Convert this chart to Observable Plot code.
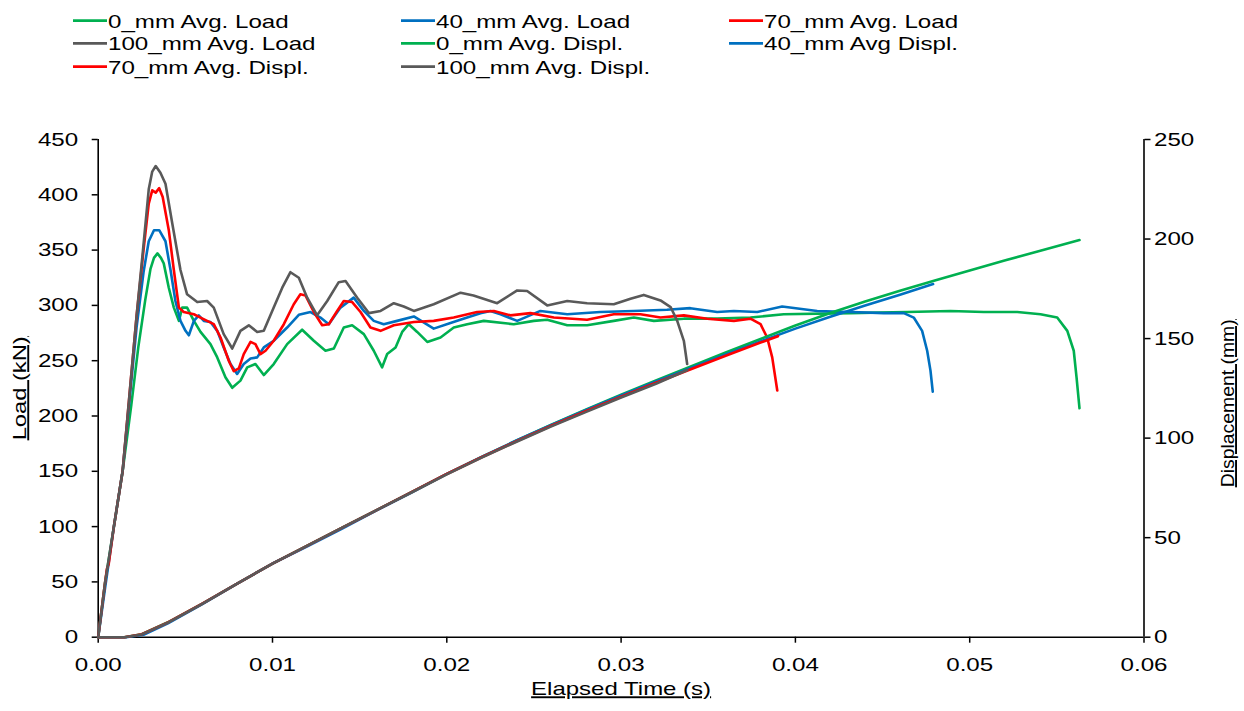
<!DOCTYPE html>
<html>
<head>
<meta charset="utf-8">
<script src="https://cdn.jsdelivr.net/npm/d3@7"></script>
<script src="https://cdn.jsdelivr.net/npm/@observablehq/plot@0.6"></script>
<style>
  html, body { margin: 0; padding: 0; background: #fff; }
  #chart { width: 1244px; height: 711px; overflow: hidden; font-family: "Liberation Sans", Arial, sans-serif; }
  svg { display: block; }
</style>
</head>
<body>
<div id="chart"></div>
<script>
// ---------- DATA ----------
// Load series: [elapsed time (s), load (kN)]
const load0mm = [[0,0],[0.0004,50],[0.0009,100],[0.0014,150],[0.0019,210],[0.0023,262],[0.0027,305],[0.0030,333],[0.0032,343],[0.0034,347],[0.0036,343],[0.00376,338],[0.00405,316],[0.00434,298],[0.00463,286],[0.00482,298],[0.0051,298],[0.00549,286],[0.00587,276],[0.00644,265],[0.00683,253],[0.0073,235],[0.00769,225.5],[0.00816,232],[0.00855,244],[0.00902,247],[0.0095,237],[0.01007,247],[0.01084,265],[0.0117,278],[0.01237,268],[0.01304,259],[0.01352,261],[0.01409,280],[0.01457,282],[0.01524,274],[0.01581,259],[0.01629,244],[0.01658,256],[0.01706,262],[0.01744,276],[0.01782,283],[0.0183,276],[0.01888,267],[0.01964,271],[0.0204,280],[0.02117,283],[0.02212,286],[0.02384,283],[0.02499,286],[0.02576,287],[0.02691,282],[0.02805,282],[0.02958,286],[0.03073,289],[0.03188,286],[0.0336,288],[0.03551,288],[0.03742,289],[0.03933,292],[0.04316,293],[0.04641,294],[0.0489,295],[0.05081,294],[0.05273,294],[0.05406,292],[0.05502,289],[0.0556,277],[0.05597,259],[0.05613,235],[0.0563,207]];
const load40mm = [[0,0],[0.0004,45],[0.0009,100],[0.0014,150],[0.0018,215],[0.0022,280],[0.0026,330],[0.0029,358],[0.0032,368],[0.0035,368],[0.00386,358],[0.00415,332],[0.00443,304],[0.00472,286],[0.00501,277],[0.0052,273],[0.00549,286],[0.00577,291],[0.00606,286],[0.00644,285],[0.00683,277],[0.0072,262],[0.00759,247],[0.00797,238],[0.00835,247],[0.00874,252],[0.00912,253],[0.0095,262],[0.01007,268],[0.01084,280],[0.01151,291.5],[0.01218,294],[0.01275,289],[0.01323,283],[0.0139,298],[0.01466,307],[0.01524,295],[0.01581,286],[0.01638,283],[0.01715,286],[0.01811,290],[0.01925,279],[0.02021,284],[0.02117,289],[0.02193,293],[0.0225,295],[0.02308,292],[0.02404,286],[0.02537,295],[0.02691,292],[0.0288,294],[0.03072,295],[0.03263,296],[0.03397,297.5],[0.03551,294],[0.03647,295],[0.03781,294],[0.03924,299],[0.04125,295],[0.04316,294],[0.04507,293],[0.04622,293],[0.04679,289],[0.04727,277],[0.04756,259],[0.04775,241],[0.04788,222]];
const load70mm = [[0,0],[0.0003,38],[0.0005,62],[0.0006,66],[0.0009,100],[0.0014,150],[0.0018,220],[0.0022,290],[0.0026,350],[0.0029,392],[0.0031,404],[0.0033,402],[0.0035,406],[0.0037,398],[0.00405,368],[0.00434,332],[0.00463,298],[0.00491,294],[0.00549,292],[0.00587,289],[0.00625,286],[0.00663,283],[0.00702,271],[0.00749,250],[0.00778,240.5],[0.00807,243],[0.00835,256],[0.00874,267],[0.00902,265],[0.00931,256],[0.0096,259],[0.01007,268],[0.01065,283],[0.01122,301],[0.0116,310],[0.01189,309],[0.01237,294],[0.01285,282],[0.01323,283],[0.01371,295],[0.01409,304],[0.01457,303],[0.01505,294],[0.01562,280],[0.0162,277],[0.01696,282],[0.01811,285],[0.01925,286],[0.0204,289],[0.02174,294],[0.0227,295],[0.02365,291],[0.0248,293],[0.02614,289],[0.02805,287],[0.02958,292],[0.03111,292],[0.03226,289],[0.0336,291],[0.03494,288],[0.03647,286],[0.03742,288],[0.038,283],[0.03838,271],[0.03867,253],[0.03896,223]];
const load100mm = [[0,0],[0.0004,50],[0.0009,100],[0.0014,150],[0.0018,220],[0.0022,290],[0.0026,355],[0.0029,405],[0.0031,421],[0.0033,426],[0.00357,420],[0.00386,410],[0.00425,374],[0.00472,332],[0.0051,310],[0.00568,303],[0.00625,304],[0.00663,298],[0.0072,274],[0.00769,261],[0.00816,277],[0.00864,282],[0.00912,276],[0.0095,277],[0.01007,298],[0.01056,316],[0.01103,330],[0.01151,325],[0.01199,307],[0.01256,291],[0.01314,304],[0.0138,321],[0.01419,322],[0.01486,307],[0.01553,293],[0.0162,295],[0.01696,302],[0.01753,299],[0.01811,295],[0.01925,301],[0.02079,311.5],[0.02153,309],[0.02289,302],[0.02404,313.5],[0.02461,313],[0.02576,300],[0.02691,304],[0.02805,302],[0.02958,301],[0.03054,306],[0.0313,309.5],[0.03226,304.5],[0.03284,298.5],[0.03322,286],[0.0336,268],[0.03379,247]];

// Displacement series: [elapsed time (s), displacement (mm)]
const displ0mm = [[0,0],[0.0015,0],[0.0025,1.5],[0.004,7.5],[0.006,17],[0.008,27],[0.010,37],[0.012,46],[0.014,55],[0.016,64],[0.018,73],[0.020,82],[0.022,90.6],[0.024,98.8],[0.026,106.8],[0.028,114.4],[0.030,121.8],[0.032,129],[0.034,136],[0.036,143],[0.038,149.8],[0.040,156.6],[0.042,162.8],[0.044,168.6],[0.046,174],[0.048,179.2],[0.050,184.2],[0.052,189.2],[0.054,194],[0.0563,199.5]];
const displ40mm = [[0,0],[0.0016,0],[0.0026,1.2],[0.004,7],[0.006,16.8],[0.008,27],[0.010,37],[0.012,45.6],[0.014,54.6],[0.016,63.8],[0.018,72.8],[0.020,82],[0.022,90.6],[0.024,98.8],[0.026,106.6],[0.028,114.2],[0.030,121.4],[0.032,128.4],[0.034,135.2],[0.036,142],[0.038,148.6],[0.040,155],[0.042,161],[0.044,166.6],[0.046,172],[0.0479,177.4]];
const displ70mm = [[0,0],[0.0015,0],[0.0025,1.5],[0.004,7.4],[0.006,17],[0.008,27],[0.010,37],[0.012,46],[0.014,55],[0.016,64],[0.018,73],[0.020,82],[0.022,90.4],[0.024,98.4],[0.026,106.2],[0.028,113.6],[0.030,120.8],[0.032,127.8],[0.034,134.6],[0.036,141.4],[0.038,148],[0.039,151.2]];
const displ100mm = [[0,0],[0.0015,0],[0.0025,1.4],[0.004,7.3],[0.006,16.9],[0.008,27],[0.010,37],[0.012,46],[0.014,55],[0.016,64],[0.018,72.8],[0.020,81.8],[0.022,90.2],[0.024,98.2],[0.026,105.9],[0.028,113.2],[0.030,120.4],[0.032,127.3],[0.0338,134.2]];

// Axes
const xTicks = [0, 0.01, 0.02, 0.03, 0.04, 0.05, 0.06];
const loadTicks = [0, 50, 100, 150, 200, 250, 300, 350, 400, 450];
const displTicks = [0, 50, 100, 150, 200, 250];
const loadMax = 450, displMax = 250;

// Series names / colours (legend order, row by row)
const seriesNames = ["0_mm Avg. Load", "40_mm Avg. Load", "70_mm Avg. Load", "100_mm Avg. Load",
                     "0_mm Avg. Displ.", "40_mm Avg Displ.", "70_mm Avg. Displ.", "100_mm Avg. Displ."];
const seriesColors = ["#00b050", "#0070c0", "#ff0000", "#595959", "#00b050", "#0070c0", "#ff0000", "#595959"];
const seriesData = [load0mm, load40mm, load70mm, load100mm, displ0mm, displ40mm, displ70mm, displ100mm];
const seriesIsDispl = [false, false, false, false, true, true, true, true];

const titles = {x: "Elapsed Time (s)", yLeft: "Load (kN)", yRight: "Displacement (mm)"};

// ---------- RENDER ----------
const FONT = "'Liberation Sans', Arial, Helvetica, sans-serif";
const STRETCH = 1.27;
const k = loadMax / displMax;
const chart = document.getElementById("chart");

// Legend (above the plot)
const LEG_H = 90;
const legend = d3.select(chart).append("svg").attr("width", 1244).attr("height", LEG_H)
  .style("font-family", FONT).style("font-size", "19px");
const colX = [73, 401, 729], rowY = [20.7, 43.3, 66.7];
seriesNames.forEach((name, i) => {
  const cx = colX[i % 3], cy = rowY[Math.floor(i / 3)];
  legend.append("line").attr("x1", cx).attr("x2", cx + 34).attr("y1", cy).attr("y2", cy)
    .attr("stroke", seriesColors[i]).attr("stroke-width", 2.8);
  legend.append("text").attr("x", cx + 35).attr("y", cy + 6.8).attr("fill", "#000").text(name);
});

const lineMarks = seriesData.map((data, i) => Plot.line(data, {
  x: d => d[0],
  y: d => seriesIsDispl[i] ? d[1] * k : d[1],
  stroke: seriesColors[i], strokeWidth: 2.6, strokeLinejoin: "round", strokeLinecap: "round"
}));

const plot = Plot.plot({
  width: 1244,
  height: 711 - LEG_H,
  marginTop: 139 - LEG_H,
  marginBottom: 711 - 636.7,
  marginLeft: 97.7,
  marginRight: 100.5,
  style: {fontFamily: FONT, fontSize: "19px", color: "#000", background: "#fff", overflow: "visible"},
  x: {domain: [0, 0.06]},
  y: {domain: [0, loadMax]},
  marks: [
    Plot.axisX({ticks: xTicks, tickFormat: d3.format(".2f"), tickSize: 6, tickPadding: 14, strokeWidth: 1.5, label: null}),
    Plot.axisY({ticks: loadTicks, tickFormat: d3.format("d"), tickSize: 6, tickPadding: 14, strokeWidth: 1.5, label: null}),
    Plot.axisY(displTicks.map(d => d * k), {anchor: "right", tickFormat: d => d3.format("d")(Math.round(d / k)), tickSize: 6, tickPadding: 4, strokeWidth: 1.5, label: null}),
    Plot.ruleX([0], {stroke: "#000", strokeWidth: 1.6}),
    Plot.ruleX([0.06], {stroke: "#000", strokeWidth: 1.6}),
    Plot.ruleY([0], {stroke: "#000", strokeWidth: 1.6}),
    ...lineMarks,
    Plot.text([titles.x], {text: d => d, frameAnchor: "bottom", textAnchor: "middle", dy: 52, lineAnchor: "middle", fontSize: 19, fill: "#000"}),
    Plot.text([titles.yLeft], {text: d => d, frameAnchor: "left", textAnchor: "middle", dx: -78, rotate: -90, lineAnchor: "middle", fontSize: 19, fill: "#000"}),
    Plot.text([titles.yRight], {text: d => d, frameAnchor: "right", textAnchor: "middle", dx: 84, dy: 15, rotate: -90, lineAnchor: "middle", fontSize: 19, fill: "#000"})
  ]
});
chart.appendChild(plot);

// Wide glyph look of the reference: stretch text horizontally
const titleLen = {[titles.x]: 180, [titles.yLeft]: 104, [titles.yRight]: 168};
d3.select(chart).selectAll("text").each(function () {
  const t = this.textContent;
  const len = this.getComputedTextLength();
  const target = titleLen[t] !== undefined ? titleLen[t] : len * STRETCH;
  this.setAttribute("textLength", target);
  this.setAttribute("lengthAdjust", "spacingAndGlyphs");
  if (titleLen[t] !== undefined) this.style.textDecoration = "underline";
});
</script>
</body>
</html>
